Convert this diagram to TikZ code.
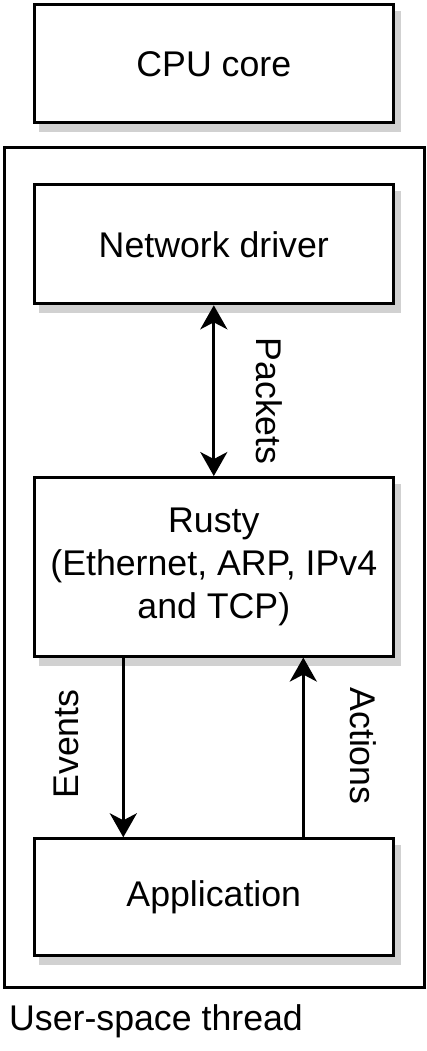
\documentclass[tikz,border=0pt]{standalone}
\usepackage{fontspec}
\setmainfont{Liberation Sans}
\usetikzlibrary{arrows.meta,shadows}
\begin{document}
\begin{tikzpicture}[x=1pt,y=-1pt,
  box/.style={draw, line width=3pt, fill=white, minimum width=359pt, inner sep=0pt,
    align=center, font=\fontsize{35.7}{43}\selectfont,
    drop shadow={shadow xshift=6pt, shadow yshift=-8pt, fill=black!18, draw=black!18, line width=3pt, opacity=1}},
  lbl/.style={inner sep=0pt, font=\fontsize{35.7}{43}\selectfont},
  conn/.style={line width=3pt, -{Stealth[length=24pt,width=27pt,inset=7pt]}},
  conn2/.style={line width=3pt, {Stealth[length=24pt,width=27pt,inset=7pt]}-{Stealth[length=24pt,width=27pt,inset=7pt]}}]
\useasboundingbox (0,0) rectangle (427,1051);
\node[box, minimum height=118pt] (cpu) at (213.8,64) {CPU core};
\node[draw, line width=3pt, minimum width=419.5pt, minimum height=839.3pt, inner sep=0pt] (thread) at (214.25,567.65) {};
\node[box, minimum height=119pt] (nd) at (213.8,244.3) {Network driver};
\node[box, minimum height=178.5pt] (rusty) at (213.8,566.8) {Rusty\\(Ethernet, ARP, IPv4\\and TCP)};
\node[box, minimum height=117pt] (app) at (213.8,897.3) {Application};
\node[lbl, anchor=base west] (ust) at (9,1030) {User-space thread};
\coordinate (ex) at (123.3,0);
\coordinate (ax) at (303.3,0);
\draw[conn2] (nd.south) -- (rusty.north);
\draw[conn] (ex |- rusty.south) -- (ex |- app.north);
\draw[conn] (ax |- app.north) -- (ax |- rusty.south);
\node[lbl, rotate=-90] (pk) at (269,401) {Packets};
\node[lbl, rotate=90] (ev) at (66,744) {Events};
\node[lbl, rotate=-90] (ac) at (363,746) {Actions};
\end{tikzpicture}
\end{document}
